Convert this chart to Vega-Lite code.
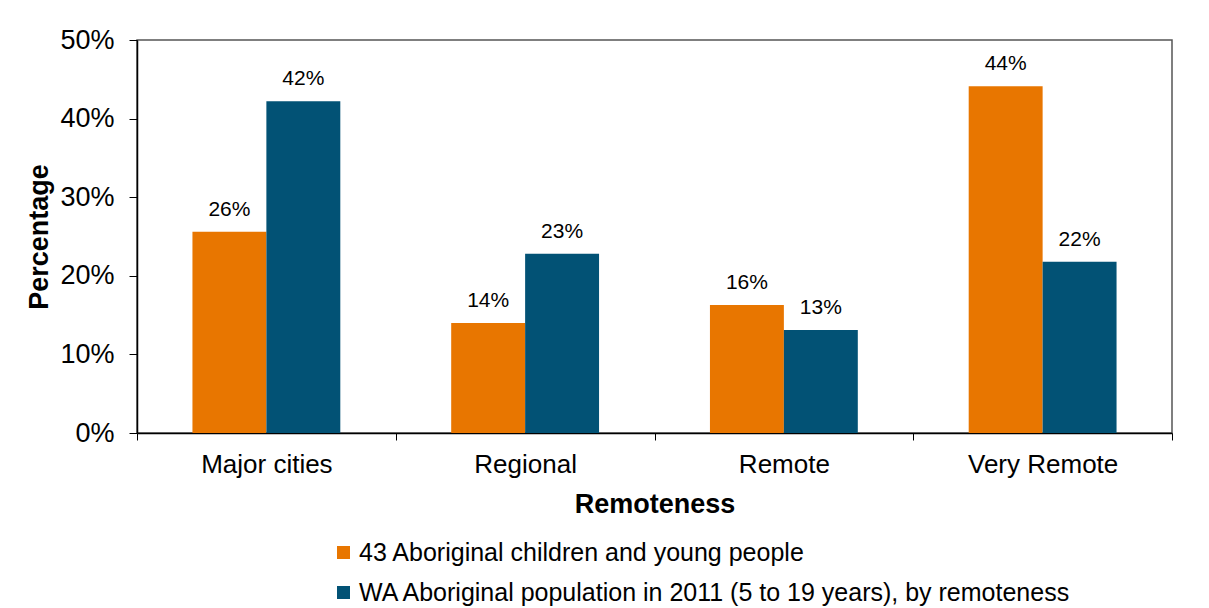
{
  "$schema": "https://vega.github.io/schema/vega-lite/v6.json",
  "width": 1035,
  "height": 393,
  "autosize": {"type": "none"},
  "padding": {"left": 137, "top": 40, "right": 37, "bottom": 175},
  "background": "white",
  "config": {
    "font": "Liberation Sans",
    "view": {"stroke": "#555555", "strokeWidth": 1.5},
    "axis": {"domainColor": "#000000", "tickColor": "#000000", "labelColor": "#000000", "titleColor": "#000000", "grid": false}
  },
  "data": {
    "values": [
      {"remoteness": "Major cities", "series": "43 Aboriginal children and young people", "pct": 0.256},
      {"remoteness": "Major cities", "series": "WA Aboriginal population in 2011 (5 to 19 years), by remoteness", "pct": 0.422},
      {"remoteness": "Regional", "series": "43 Aboriginal children and young people", "pct": 0.140},
      {"remoteness": "Regional", "series": "WA Aboriginal population in 2011 (5 to 19 years), by remoteness", "pct": 0.228},
      {"remoteness": "Remote", "series": "43 Aboriginal children and young people", "pct": 0.163},
      {"remoteness": "Remote", "series": "WA Aboriginal population in 2011 (5 to 19 years), by remoteness", "pct": 0.131},
      {"remoteness": "Very Remote", "series": "43 Aboriginal children and young people", "pct": 0.441},
      {"remoteness": "Very Remote", "series": "WA Aboriginal population in 2011 (5 to 19 years), by remoteness", "pct": 0.218}
    ]
  },
  "encoding": {
    "x": {
      "field": "remoteness", "type": "nominal", "sort": ["Major cities", "Regional", "Remote", "Very Remote"],
      "scale": {"paddingInner": 0, "paddingOuter": 0},
      "axis": {"title": "Remoteness", "labelAngle": 0, "labelFontSize": 26, "titleFontSize": 27, "titleFontWeight": "bold", "tickBand": "extent", "tickSize": 7, "labelPadding": 11, "titlePadding": 14, "domainWidth": 1.5}
    },
    "xOffset": {
      "field": "series", "type": "nominal",
      "sort": ["43 Aboriginal children and young people", "WA Aboriginal population in 2011 (5 to 19 years), by remoteness"],
      "scale": {"paddingInner": 0, "paddingOuter": 0.75}
    },
    "y": {
      "field": "pct", "type": "quantitative",
      "scale": {"domain": [0, 0.5]},
      "axis": {"title": "Percentage", "values": [0, 0.1, 0.2, 0.3, 0.4, 0.5], "format": ".0%", "labelFontSize": 27, "titleFontSize": 27, "titleFontWeight": "bold", "tickSize": 8, "labelPadding": 15, "titlePadding": 6, "domainWidth": 1.5}
    }
  },
  "layer": [
    {
      "mark": {"type": "bar"},
      "encoding": {
        "color": {
          "field": "series", "type": "nominal",
          "scale": {"domain": ["43 Aboriginal children and young people", "WA Aboriginal population in 2011 (5 to 19 years), by remoteness"], "range": ["#E87600", "#025275"]},
          "legend": {"title": null, "orient": "none", "legendX": 194, "legendY": 500, "direction": "vertical", "symbolType": "square", "symbolSize": 169, "symbolStrokeWidth": 0, "labelFontSize": 25, "labelColor": "#000000", "labelOffset": 3, "rowPadding": 14, "labelLimit": 900}
        }
      }
    },
    {
      "mark": {"type": "text", "baseline": "alphabetic", "dy": -16, "fontSize": 21, "color": "#000000"},
      "encoding": {
        "text": {"field": "pct", "type": "quantitative", "format": ".0%"}
      }
    }
  ]
}
